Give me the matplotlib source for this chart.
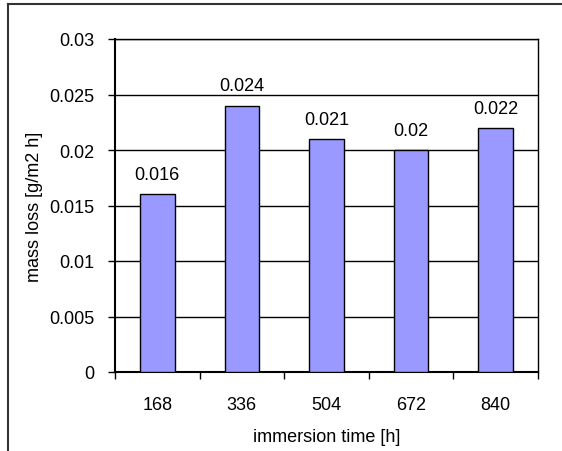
import matplotlib.pyplot as plt
from matplotlib.lines import Line2D

# immersion times and mass loss rates
times = ['168', '336', '504', '672', '840']
mass_loss = [0.016, 0.024, 0.021, 0.02, 0.022]
y_ticks = [0, 0.005, 0.01, 0.015, 0.02, 0.025, 0.03]
y_tick_labels = ['0', '0.005', '0.01', '0.015', '0.02', '0.025', '0.03']

plt.rcParams['font.family'] = ['Liberation Sans', 'DejaVu Sans']
FS = 13

W, H = 562, 452
fig = plt.figure(figsize=(W / 100, H / 100), dpi=100)
ax = fig.add_axes([115 / W, 1 - 373 / H, (538 - 115) / W, (373 - 40) / H])

x = list(range(len(times)))
ax.set_axisbelow(True)
ax.yaxis.grid(True, color='black', linewidth=1)
ax.bar(x, mass_loss, width=0.41, color='#9999FF', edgecolor='black', linewidth=1, zorder=3)

for xi, v in zip(x, mass_loss):
    ax.annotate(f'{v:g}', (xi, v), xytext=(0, 11), textcoords='offset points',
                ha='center', va='baseline', fontsize=FS)

ax.set_xlim(-0.5, len(times) - 0.5)
ax.set_ylim(0, 0.03)
ax.set_yticks(y_ticks)
ax.set_yticklabels(y_tick_labels, fontsize=FS)

# category labels centred, tick marks on category boundaries
ax.set_xticks(x)
ax.set_xticklabels(times, fontsize=FS)
ax.tick_params(axis='x', which='major', length=0, pad=17)
ax.set_xticks([i - 0.5 for i in range(len(times) + 1)], minor=True)
ax.tick_params(axis='x', which='minor', length=5, width=1, direction='out')
ax.tick_params(axis='y', length=5, width=1, direction='out', pad=10)

for s in ax.spines.values():
    s.set_color('black')
    s.set_linewidth(1)
ax.spines['left'].set_linewidth(1.5)
ax.spines['bottom'].set_linewidth(1.5)

ax.set_xlabel('immersion time [h]', fontsize=FS, labelpad=11)
ax.set_ylabel('mass loss [g/m2 h]', fontsize=FS, labelpad=4)

# outer chart frame
fig.add_artist(Line2D([8 / W, 8 / W], [0, 1 - 5 / H], color='#333333', linewidth=1.5))
fig.add_artist(Line2D([8 / W, 1], [1 - 5 / H, 1 - 5 / H], color='#333333', linewidth=1.5))

fig.savefig('out.png', dpi=100)
